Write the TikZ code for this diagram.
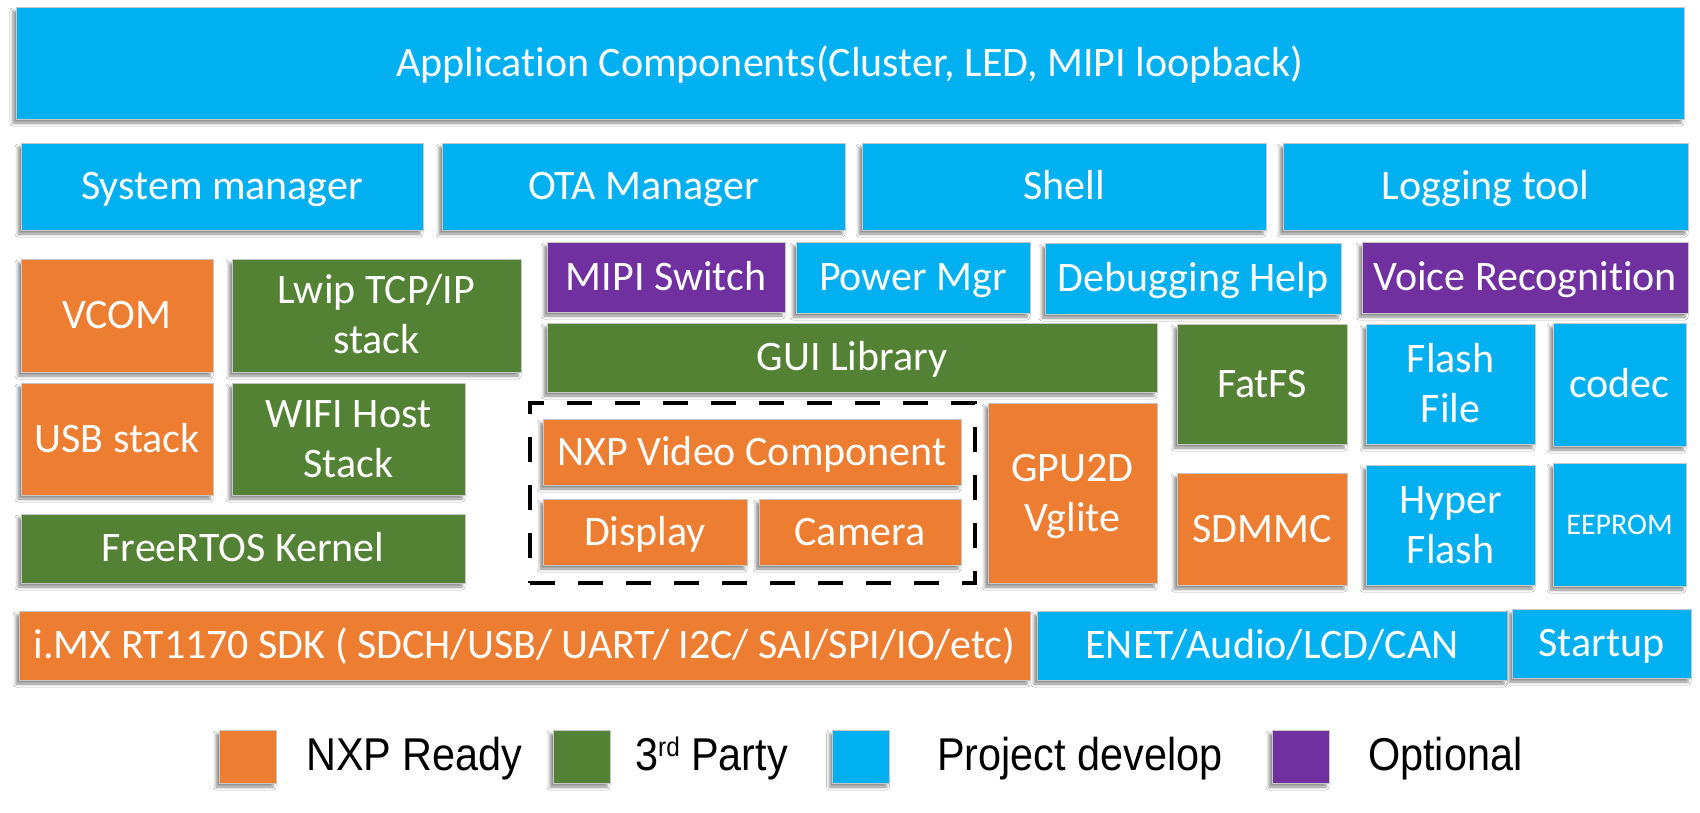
\documentclass[tikz,border=0pt]{standalone}
\usepackage{fontspec}
\setmainfont[RawFeature={-liga;-clig;-calt;-dlig}]{Carlito}
\newfontfamily\legfont[FakeStretch=0.9]{Liberation Sans}
\usetikzlibrary{shadows.blur}
\definecolor{nxpblue}{HTML}{00B0F0}
\definecolor{nxporange}{HTML}{ED7D31}
\definecolor{nxpgreen}{HTML}{548235}
\definecolor{nxppurple}{HTML}{7030A0}
\tikzset{
  blk/.style={draw=black!22, line width=0.8pt, text=white, inner sep=0pt, outer sep=0pt,
    font=\fontsize{42}{50}\selectfont,
    blur shadow={shadow xshift=-3pt, shadow yshift=-4pt, shadow blur radius=3pt, shadow opacity=45}},
  dashbox/.style={draw=black, line width=4pt, dash pattern=on 25pt off 23pt, inner sep=0pt, outer sep=0pt},
  legsq/.style={draw=black!22, line width=0.8pt, inner sep=0pt, minimum width=57pt, minimum height=53pt,
    blur shadow={shadow xshift=-3pt, shadow yshift=-4pt, shadow blur radius=3pt, shadow opacity=45}},
  legtxt/.style={anchor=base west, inner sep=0pt, text=black, font=\legfont\fontsize{46}{55}\selectfont}
}
\newcommand\mkbox[7]{\node[blk, fill=#6, minimum width={(#4-#2)*1pt}, minimum height={(#5-#3)*1pt}] (#1) at ({(#2+#4)/2},{(#3+#5)/2}) {#7};}
\newcommand\one[1]{\raisebox{0pt}[26.6pt][0pt]{#1}}
\newcommand\two[2]{\raisebox{0pt}[76.6pt][0pt]{\vbox{\baselineskip=50pt\lineskiplimit=-1000pt\halign{\hfil##\hfil\cr#1\cr#2\cr}}}}
\newcommand\supr[1]{\raisebox{14pt}{\fontsize{27}{30}\selectfont #1}}
\begin{document}
\begin{tikzpicture}[x=1pt,y=-1pt]
\fill[white] (0,0) rectangle (1700,812);
\useasboundingbox (0,0) rectangle (1700,812);
\mkbox{app}{16}{7}{1684}{119}{nxpblue}{\one{Applicat\kern0pt ion Components(Cluster, LED, MIPI loopback)}}
\mkbox{sysmgr}{21}{143}{423}{230}{nxpblue}{\one{System manager}}
\mkbox{ota}{442}{143}{845}{230}{nxpblue}{\one{OTA Manager}}
\mkbox{shell}{862}{143}{1266}{230}{nxpblue}{\one{Shell}}
\mkbox{logtool}{1283}{143}{1688}{230}{nxpblue}{\one{Logging tool}}
\mkbox{vcom}{21}{259}{213}{372}{nxporange}{\one{VCOM}}
\mkbox{lwip}{232}{259}{521}{372}{nxpgreen}{\two{Lwip TCP/IP}{stack}}
\mkbox{usb}{21}{383}{213}{495}{nxporange}{\one{USB stack}}
\mkbox{wifi}{232}{383}{465}{495}{nxpgreen}{\two{WIFI Host}{Stack}}
\mkbox{rtos}{21}{514}{465}{583}{nxpgreen}{\one{FreeRTOS Kernel}}
\mkbox{mipi}{547}{242}{785}{312}{nxppurple}{\one{MIPI Switch}}
\mkbox{power}{796}{242}{1030}{313}{nxpblue}{\one{Power Mgr}}
\mkbox{debug}{1045}{243}{1341}{314}{nxpblue}{\one{Debugging Help}}
\mkbox{voice}{1362}{242}{1688}{313}{nxppurple}{\one{Voice Recognit\kern0pt ion}}
\mkbox{gui}{547}{323}{1157}{392}{nxpgreen}{\one{GUI Library}}
\mkbox{fatfs}{1177}{324}{1347}{444}{nxpgreen}{\one{FatFS}}
\mkbox{flashfile}{1366}{324}{1535}{444}{nxpblue}{\two{Flash}{File}}
\mkbox{codec}{1553}{323}{1686}{446}{nxpblue}{\one{codec}}
\node[dashbox, minimum width=445pt, minimum height=180pt] (video) at (752.5,493) {};
\mkbox{nxpvideo}{543}{419}{961}{485}{nxporange}{\one{NXP Video Component}}
\mkbox{display}{543}{499}{747}{565}{nxporange}{\one{Display}}
\mkbox{camera}{759}{499}{961}{565}{nxporange}{\one{Camera}}
\mkbox{gpu}{988}{403}{1157}{583}{nxporange}{\two{GPU2D}{Vglite}}
\mkbox{sdmmc}{1177}{473}{1347}{585}{nxporange}{\one{SDMMC}}
\mkbox{hyper}{1366}{465}{1535}{585}{nxpblue}{\two{Hyper}{Flash}}
\mkbox{eeprom}{1553}{463}{1686}{586}{nxpblue}{\fontsize{30}{36}\selectfont\raisebox{0pt}[19pt][0pt]{EEPROM}}
\mkbox{sdk}{19}{611}{1030}{680}{nxporange}{\one{i.MX RT1170 SDK ( SDCH/USB/ UART/ I2C/ SAI/SPI/IO/etc)}}
\mkbox{enet}{1037}{611}{1507}{680}{nxpblue}{\one{ENET/Audio/LCD/CAN}}
\mkbox{startup}{1512}{609}{1691}{678}{nxpblue}{\one{Startup}}
% legend
\node[legsq, fill=nxporange] (lg1) at (247.5,756.5) {};
\node[legsq, fill=nxpgreen] (lg2) at (581.5,756.5) {};
\node[legsq, fill=nxpblue] (lg3) at (861,756.5) {};
\node[legsq, fill=nxppurple] (lg4) at (1300.5,756.5) {};
\node[legtxt] (lt1) at (306,770) {NXP Ready};
\node[legtxt] (lt2) at (635,770) {3\supr{rd} Party};
\node[legtxt] (lt3) at (937,770) {Project develop};
\node[legtxt] (lt4) at (1368,770) {Optional};
\end{tikzpicture}
\end{document}
